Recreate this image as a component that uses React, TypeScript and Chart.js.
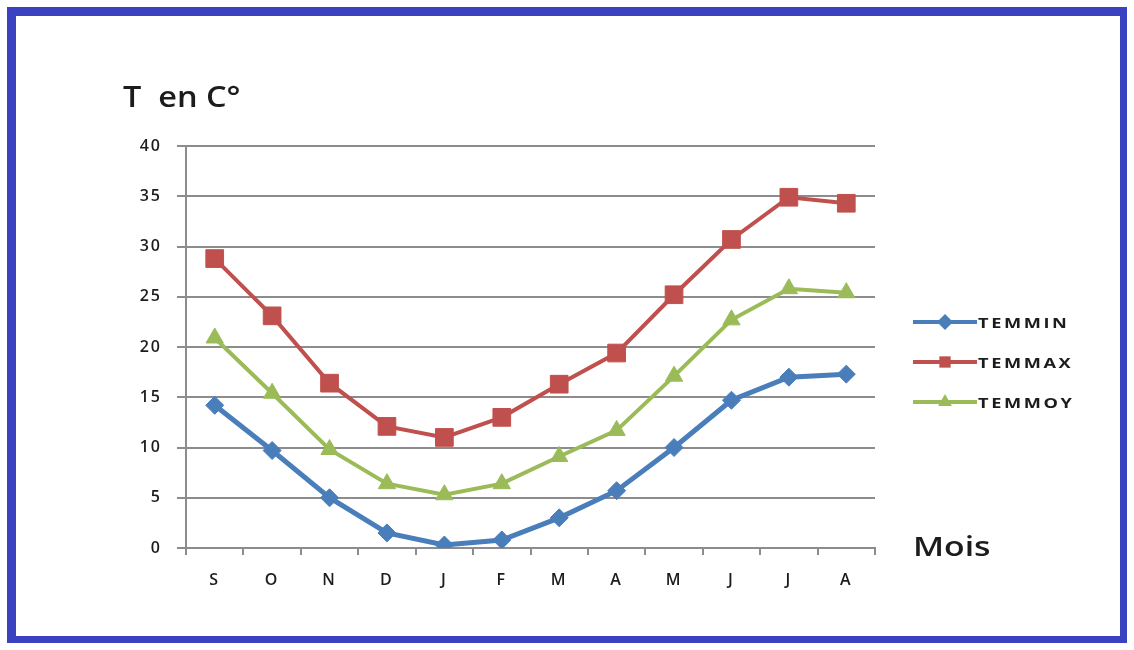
import { useEffect, useRef } from "react";
import { Chart, registerables } from "chart.js";

Chart.register(...registerables);

// Months of the climate year, September to August
const months = ["S", "O", "N", "D", "J", "F", "M", "A", "M", "J", "J", "A"];

// Monthly temperatures in °C
const temMin = [14.2, 9.7, 5.0, 1.5, 0.3, 0.8, 3.0, 5.7, 10.0, 14.7, 17.0, 17.3];
const temMax = [28.8, 23.1, 16.4, 12.1, 11.0, 13.0, 16.3, 19.4, 25.2, 30.7, 34.9, 34.3];
const temMoy = [20.9, 15.4, 9.8, 6.4, 5.3, 6.4, 9.1, 11.7, 17.1, 22.7, 25.8, 25.4];

const seriesNames = ["TEMMIN", "TEMMAX", "TEMMOY"];
const seriesColors = ["#4A7EBB", "#C0504D", "#9BBB59"];
const seriesMarkers = ["rectRot", "rect", "triangle"];

const yMin = 0;
const yMax = 40;
const yStep = 5;

const GRID = "#8c8c8c";
const TEXT = "#1c1c1c";

function drawMarker(ctx: CanvasRenderingContext2D, style: string, x: number, y: number, r: number) {
  ctx.beginPath();
  if (style === "rect") {
    const s = r * Math.SQRT1_2;
    ctx.rect(x - s, y - s, 2 * s, 2 * s);
  } else if (style === "rectRot") {
    ctx.moveTo(x, y - r);
    ctx.lineTo(x + r, y);
    ctx.lineTo(x, y + r);
    ctx.lineTo(x - r, y);
    ctx.closePath();
  } else {
    ctx.moveTo(x, y - r);
    ctx.lineTo(x + r * 0.866, y + r * 0.5);
    ctx.lineTo(x - r * 0.866, y + r * 0.5);
    ctx.closePath();
  }
  ctx.fill();
}

function stretchedText(
  ctx: CanvasRenderingContext2D,
  text: string,
  x: number,
  y: number,
  font: string,
  sx: number,
  spacing = "0px"
) {
  ctx.save();
  ctx.font = font;
  (ctx as any).letterSpacing = spacing;
  ctx.textAlign = "left";
  ctx.textBaseline = "alphabetic";
  ctx.translate(x, y);
  ctx.scale(sx, 1);
  ctx.fillText(text, 0, 0);
  ctx.restore();
}

// Wider letter spacing for the axis tick labels
const tickSpacing = {
  id: "tickSpacing",
  beforeDraw(chart: any) {
    (chart.ctx as any).letterSpacing = "2px";
  },
  beforeDatasetsDraw(chart: any) {
    (chart.ctx as any).letterSpacing = "0px";
  },
};

// Axis captions and a line+marker legend to the right of the plot
const decorations = {
  id: "decorations",
  afterDraw(chart: any) {
    const ctx: CanvasRenderingContext2D = chart.ctx;
    const area = chart.chartArea;
    ctx.save();
    ctx.fillStyle = TEXT;
    stretchedText(ctx, "T  en C°", 123, 107, '600 29px "Open Sans"', 1.12);
    stretchedText(ctx, "Mois", area.right + 38, area.bottom + 8, '600 27px "Open Sans"', 1.25);

    const lx0 = area.right + 38;
    const lx1 = lx0 + 64;
    chart.data.datasets.forEach((ds: any, i: number) => {
      const y = 322 + i * 40;
      ctx.strokeStyle = ds.borderColor;
      ctx.lineWidth = 4;
      ctx.beginPath();
      ctx.moveTo(lx0, y);
      ctx.lineTo(lx1, y);
      ctx.stroke();
      ctx.fillStyle = ds.borderColor;
      drawMarker(ctx, ds.pointStyle, (lx0 + lx1) / 2, y, 8);
      ctx.fillStyle = TEXT;
      stretchedText(ctx, ds.label, lx1 + 1, y + 6, 'bold 14px "Open Sans"', 1.3, "2px");
    });
    ctx.restore();
  },
};

export default function App() {
  const canvasRef = useRef<HTMLCanvasElement | null>(null);

  useEffect(() => {
    document.body.style.margin = "0";
    const canvas = canvasRef.current;
    if (!canvas) return;

    const values = [temMin, temMax, temMoy];
    const radii = [9, 12.5, 10];
    const widths = [5, 4, 4];

    const chart = new Chart(canvas, {
      type: "line",
      data: {
        labels: months,
        datasets: values.map((v, i) => ({
          label: seriesNames[i],
          data: v,
          borderColor: seriesColors[i],
          backgroundColor: seriesColors[i],
          pointBackgroundColor: seriesColors[i],
          pointBorderColor: seriesColors[i],
          pointStyle: seriesMarkers[i] as any,
          pointRadius: radii[i],
          pointBorderWidth: 1,
          borderWidth: widths[i],
          tension: 0,
          fill: false,
        })),
      },
      options: {
        responsive: false,
        animation: false,
        devicePixelRatio: 1,
        layout: { padding: { left: 130, right: 259, top: 146, bottom: 52 } },
        plugins: {
          legend: { display: false },
          title: { display: false },
          tooltip: { enabled: false },
        },
        scales: {
          x: {
            offset: true,
            grid: {
              display: true,
              offset: true,
              drawOnChartArea: false,
              drawTicks: true,
              tickLength: 7,
              color: GRID,
              lineWidth: 2,
            },
            border: { display: true, color: GRID, width: 2 },
            ticks: {
              color: TEXT,
              padding: 16,
              font: { family: "Open Sans", size: 16, weight: 600 },
            },
            afterFit: (scale: any) => {
              scale.height = 50;
            },
          },
          y: {
            min: yMin,
            max: yMax,
            ticks: {
              stepSize: yStep,
              color: TEXT,
              padding: 15,
              font: { family: "Open Sans", size: 16, weight: 600 },
            },
            grid: {
              color: GRID,
              lineWidth: 2,
              drawTicks: true,
              tickLength: 9,
            },
            border: { display: true, color: GRID, width: 2 },
            afterFit: (scale: any) => {
              scale.width = 56;
            },
          },
        },
      },
      plugins: [tickSpacing, decorations],
    });

    return () => chart.destroy();
  }, []);

  return (
    <div style={{ position: "relative", width: 1134, height: 650, background: "#ffffff", overflow: "hidden" }}>
      <div
        style={{
          position: "absolute",
          left: 7,
          top: 7,
          width: 1120,
          height: 636,
          boxSizing: "border-box",
          borderStyle: "solid",
          borderColor: "#3A42C2",
          borderWidth: "9px 7px 7px 9px",
        }}
      />
      <canvas ref={canvasRef} width={1134} height={650} style={{ position: "absolute", left: 0, top: 0 }} />
    </div>
  );
}
